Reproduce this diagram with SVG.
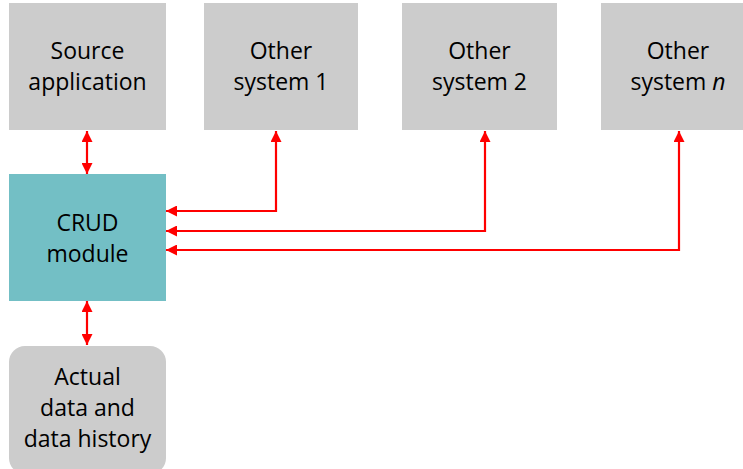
<svg xmlns="http://www.w3.org/2000/svg" width="743" height="469" viewBox="0 0 743 469">
<style>
.box{fill:#CCCCCC}
.crud{fill:#73BFC5}
.t{font-family:"Open Sans","Liberation Sans",sans-serif;font-size:23px;fill:#000;text-anchor:middle}
.c{fill:none;stroke:#FF0000;stroke-width:2.2;stroke-linejoin:miter}
</style>
<defs>
<marker id="ah" markerUnits="userSpaceOnUse" markerWidth="11" markerHeight="11" viewBox="0 0 11 11" refX="11" refY="5.5" orient="auto-start-reverse">
<path d="M0,0 L11,5.5 L0,11 z" fill="#FF0000"/>
</marker>
</defs>
<rect width="743" height="469" fill="#FFFFFF"/>
<g id="source">
<rect class="box" x="9" y="3" width="157" height="127"/>
<text class="t" x="87.5" y="59">Source</text>
<text class="t" x="87.5" y="90">application</text>
</g>
<g id="other1">
<rect class="box" x="204" y="3" width="154" height="127"/>
<text class="t" x="281" y="59">Other</text>
<text class="t" x="281" y="90">system 1</text>
</g>
<g id="other2">
<rect class="box" x="402" y="3" width="155" height="127"/>
<text class="t" x="479.5" y="59">Other</text>
<text class="t" x="479.5" y="90">system 2</text>
</g>
<g id="othern">
<rect class="box" x="601" y="3" width="155" height="127"/>
<text class="t" x="678" y="59">Other</text>
<text class="t" x="678" y="90">system <tspan font-style="italic">n</tspan></text>
</g>
<g id="crud">
<rect class="crud" x="9" y="174" width="157" height="127"/>
<text class="t" x="87.5" y="231">CRUD</text>
<text class="t" x="87.5" y="262">module</text>
</g>
<g id="data">
<rect class="box" x="9" y="346" width="157" height="128" rx="16" ry="16"/>
<text class="t" x="87.5" y="385">Actual</text>
<text class="t" x="87.5" y="416">data and</text>
<text class="t" x="87.5" y="447">data history</text>
</g>
<g id="connectors">
<path class="c" d="M87,131 L87,174" marker-start="url(#ah)" marker-end="url(#ah)"/>
<path class="c" d="M87,301 L87,345" marker-start="url(#ah)" marker-end="url(#ah)"/>
<path class="c" d="M276,131 L276,211 L166,211" marker-start="url(#ah)" marker-end="url(#ah)"/>
<path class="c" d="M485,131 L485,231 L166,231" marker-start="url(#ah)" marker-end="url(#ah)"/>
<path class="c" d="M679,131 L679,250 L166,250" marker-start="url(#ah)" marker-end="url(#ah)"/>
</g>
</svg>
